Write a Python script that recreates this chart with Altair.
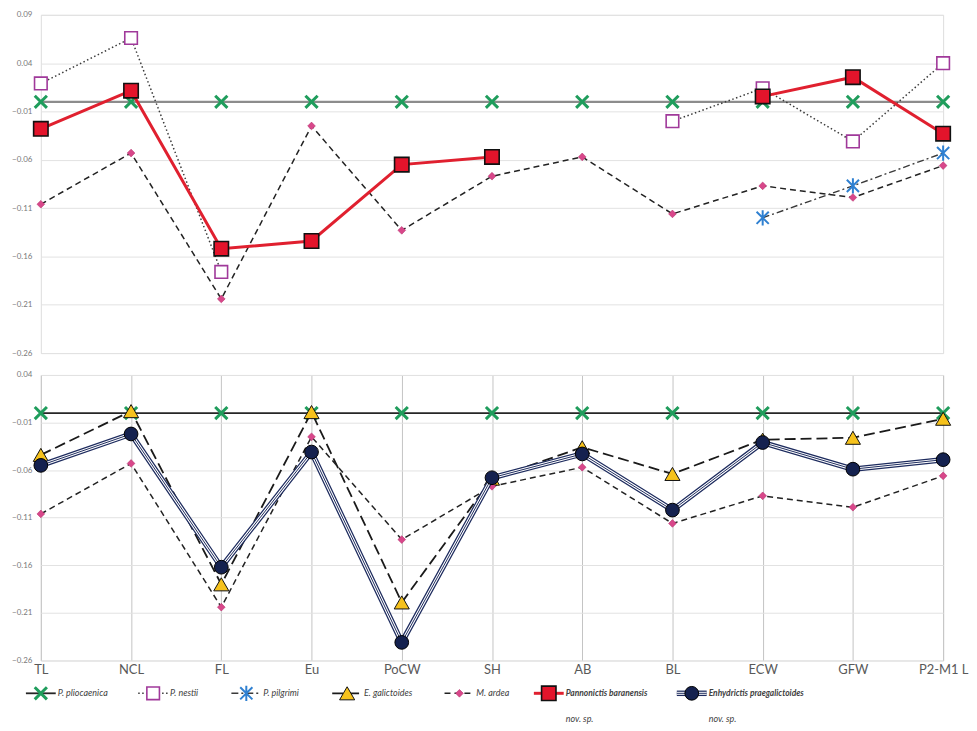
import altair as alt
import pandas as pd

# ---------------- data ----------------
cats = ["TL", "NCL", "FL", "Eu", "PoCW", "SH", "AB", "BL", "ECW", "GFW", "P2-M1 L"]

species = ["P. pliocaenica", "P. nestii", "P. pilgrimi", "E. galictoides",
           "M. ardea", "Pannonictis baranensis", "Enhydrictis praegalictoides"]
legend_sub = ["", "", "", "", "", "nov. sp.", "nov. sp."]

# upper panel
top_pliocaenica = [0.0, 0.0, 0.0, 0.0, 0.0, 0.0, 0.0, 0.0, 0.0, 0.0, 0.0]
top_nestii = [0.019, 0.066, -0.176, None, None, None, None, -0.020, 0.014, -0.041, 0.040]
top_pilgrimi = [None, None, None, None, None, None, None, None, -0.120, -0.087, -0.053]
top_ardea = [-0.106, -0.053, -0.204, -0.025, -0.133, -0.077, -0.057, -0.116, -0.087, -0.099, -0.066]
top_baranensis = [-0.028, 0.0115, -0.152, -0.144, -0.065, -0.057, None, None, 0.0056, 0.0255, -0.033]

# lower panel
bot_pliocaenica = [0.0, 0.0, 0.0, 0.0, 0.0, 0.0, 0.0, 0.0, 0.0, 0.0, 0.0]
bot_galictoides = [-0.044, 0.002, -0.180, 0.001, -0.199, -0.069, -0.036, -0.064, -0.028, -0.026, -0.006]
bot_ardea = [-0.106, -0.053, -0.204, -0.025, -0.133, -0.077, -0.057, -0.116, -0.087, -0.099, -0.066]
bot_praegalictoides = [-0.055, -0.022, -0.162, -0.041, -0.241, -0.068, -0.043, -0.102, -0.031, -0.059, -0.049]

top_ticks = [0.09, 0.04, -0.01, -0.06, -0.11, -0.16, -0.21, -0.26]
bot_ticks = [0.04, -0.01, -0.06, -0.11, -0.16, -0.21, -0.26]

# ---------------- styles ----------------
X_PATH = "M-1,-1L1,1M-1,1L1,-1"
AST_PATH = "M-1,-1L1,1M-1,1L1,-1M0,-1.25L0,1.25"

line_style = {
    "P. nestii": dict(color="#3a3a3a", strokeDash=[1.5, 2.5], strokeWidth=1.5),
    "P. pilgrimi": dict(color="#3a3a3a", strokeDash=[7, 3, 2, 3], strokeWidth=1.4),
    "E. galictoides": dict(color="#1a1a1a", strokeDash=[11, 5], strokeWidth=1.8),
    "M. ardea": dict(color="#222222", strokeDash=[6, 4], strokeWidth=1.5),
    "Pannonictis baranensis": dict(color="#e0202f", strokeWidth=3),
    "Enhydrictis praegalictoides": dict(color="#1d2b5e", strokeWidth=5.5),
}
std_style = {"top": dict(color="#8c8c8c", strokeWidth=2.2),
             "bot": dict(color="#262626", strokeWidth=1.8)}
legend_std_style = dict(color="#262626", strokeWidth=1.8)

marker_style = {
    "P. pliocaenica": dict(shape=X_PATH, fill="transparent", stroke="#1f9d5c", strokeWidth=3, size=150),
    "P. nestii": dict(shape="square", fill="#ffffff", stroke="#a0399a", strokeWidth=1.6, size=160),
    "P. pilgrimi": dict(shape=AST_PATH, fill="transparent", stroke="#2f80d1", strokeWidth=2, size=150),
    "E. galictoides": dict(shape="triangle-up", fill="#f6c21c", stroke="#111111", strokeWidth=1, size=230),
    "M. ardea": dict(shape="diamond", fill="#d8478a", stroke="#b8336f", strokeWidth=0.6, size=60),
    "Pannonictis baranensis": dict(shape="square", fill="#e3142b", stroke="#111111", strokeWidth=1.6, size=210),
    "Enhydrictis praegalictoides": dict(shape="circle", fill="#14214f", stroke="#000000", strokeWidth=1, size=190),
}

W = 907
H_TOP = 340
H_BOT = 287
FONT = "Lato"


def long_table(series):
    rows = []
    for name, vals in series:
        seg = 0
        prev_valid = False
        for c, v in zip(cats, vals):
            if v is None:
                if prev_valid:
                    seg += 1
                prev_valid = False
                continue
            rows.append({"cat": c, "species": name, "value": v, "seg": f"{name}-{seg}"})
            prev_valid = True
    return pd.DataFrame(rows)


top_df = long_table([("P. pliocaenica", top_pliocaenica), ("P. nestii", top_nestii),
                     ("P. pilgrimi", top_pilgrimi), ("M. ardea", top_ardea),
                     ("Pannonictis baranensis", top_baranensis)])
bot_df = long_table([("P. pliocaenica", bot_pliocaenica), ("E. galictoides", bot_galictoides),
                     ("M. ardea", bot_ardea), ("Enhydrictis praegalictoides", bot_praegalictoides)])

cat_scale = alt.Scale(type="point", domain=cats, padding=0)


def x_enc(show_axis):
    if show_axis:
        return alt.X("cat:N", scale=cat_scale, sort=cats, title=None,
                     axis=alt.Axis(grid=True, gridColor="#c4c4c4", gridWidth=1, ticks=False,
                                   domain=False, labelAngle=0, labelFont=FONT, labelFontSize=13,
                                   labelColor="#595959", labelPadding=3))
    return alt.X("cat:N", scale=cat_scale, sort=cats, axis=None)


def y_enc(domain, ticks):
    return alt.Y("value:Q", scale=alt.Scale(domain=domain, nice=False, zero=False), title=None,
                 axis=alt.Axis(values=ticks, format=".2f", grid=True, gridColor="#e2e2e2",
                               ticks=False, domain=False, labelFont=FONT, labelFontSize=8,
                               labelColor="#7a7a7a", labelPadding=9, minExtent=32, maxExtent=32))


def panel_layers(df, key, order, domain, ticks):
    base = alt.Chart(df)
    layers = []
    first = True
    for sp in order:
        sub = base.transform_filter(alt.datum.species == sp).transform_calculate(
            cat_idx=f"indexof({cats!r}, datum.cat)")
        enc = dict(x=x_enc(first), y=y_enc(domain, ticks), detail="seg:N",
                   order=alt.Order("cat_idx:Q"))
        first = False
        st = std_style[key] if sp == "P. pliocaenica" else line_style[sp]
        layers.append(sub.mark_line(**st).encode(**enc))
        if sp == "Enhydrictis praegalictoides":
            layers.append(sub.mark_line(color="#ffffff", strokeWidth=3).encode(**enc))
            layers.append(sub.mark_line(color="#1d2b5e", strokeWidth=1).encode(**enc))
        layers.append(sub.mark_point(opacity=1, **marker_style[sp]).encode(
            x=x_enc(False), y=y_enc(domain, ticks)))
    return layers


top_order = ["P. pliocaenica", "P. nestii", "P. pilgrimi", "M. ardea", "Pannonictis baranensis"]
bot_order = ["P. pliocaenica", "E. galictoides", "M. ardea", "Enhydrictis praegalictoides"]

top = alt.layer(*panel_layers(top_df, "top", top_order, [-0.26, 0.09], top_ticks)).properties(
    width=W, height=H_TOP)

# ---------------- legend (layout computed from label lengths) ----------------
HALF = 15
PAD = 5
GAP = 24
CW = 3.85
leg_rows = []
c = 0.0
for name, s2 in zip(species, legend_sub):
    leg_rows.append({"species": name, "cx": c, "x0": c - HALF, "x1": c + HALF,
                     "tx": c + HALF + PAD - 3, "sub": s2, "bold": 1 if s2 else 0})
    c = c + 2 * HALF + PAD + len(name) * CW + GAP
leg_df = pd.DataFrame(leg_rows)
lx = alt.Scale(domain=[0, W], range=[0, W])
LEG_Y = H_BOT + 33
LEG_Y2 = LEG_Y + 26
leg_base = alt.Chart(leg_df)
leg_layers = []
for sp in species:
    sub = leg_base.transform_filter(alt.datum.species == sp)
    st = legend_std_style if sp == "P. pliocaenica" else line_style[sp]
    leg_layers.append(sub.mark_rule(**st).encode(
        x=alt.X("x0:Q", scale=lx, axis=None), x2="x1:Q", y=alt.value(LEG_Y)))
    if sp == "Enhydrictis praegalictoides":
        leg_layers.append(sub.mark_rule(color="#ffffff", strokeWidth=3).encode(
            x=alt.X("x0:Q", scale=lx, axis=None), x2="x1:Q", y=alt.value(LEG_Y)))
        leg_layers.append(sub.mark_rule(color="#1d2b5e", strokeWidth=1).encode(
            x=alt.X("x0:Q", scale=lx, axis=None), x2="x1:Q", y=alt.value(LEG_Y)))
    leg_layers.append(sub.mark_point(opacity=1, **marker_style[sp]).encode(
        x=alt.X("cx:Q", scale=lx, axis=None), y=alt.value(LEG_Y)))
leg_layers.append(leg_base.transform_filter(alt.datum.bold == 0).mark_text(
    align="left", baseline="middle", font=FONT, fontSize=9, fontStyle="italic",
    color="#404040").encode(x=alt.X("tx:Q", scale=lx, axis=None), y=alt.value(LEG_Y),
                            text="species:N"))
leg_layers.append(leg_base.transform_filter(alt.datum.bold == 1).mark_text(
    align="left", baseline="middle", font=FONT, fontSize=8.5, fontStyle="italic",
    fontWeight="bold", color="#404040").encode(
    x=alt.X("tx:Q", scale=lx, axis=None), y=alt.value(LEG_Y), text="species:N"))
leg_layers.append(leg_base.transform_filter(alt.datum.bold == 1).mark_text(
    align="left", baseline="middle", font=FONT, fontSize=9, fontStyle="italic",
    color="#404040").encode(
    x=alt.X("tx:Q", scale=lx, axis=None), y=alt.value(LEG_Y2), text="sub:N"))

bottom = alt.layer(*panel_layers(bot_df, "bot", bot_order, [-0.26, 0.04], bot_ticks),
                   *leg_layers).resolve_scale(x="independent").properties(width=W, height=H_BOT)

chart = alt.vconcat(top, bottom, spacing=12).properties(
    padding={"left": 0, "top": 0, "right": 0, "bottom": 0}
).configure_view(stroke=None).configure(background="#ffffff")

chart.save("out.html", embed_options={"renderer": "svg", "actions": False})
